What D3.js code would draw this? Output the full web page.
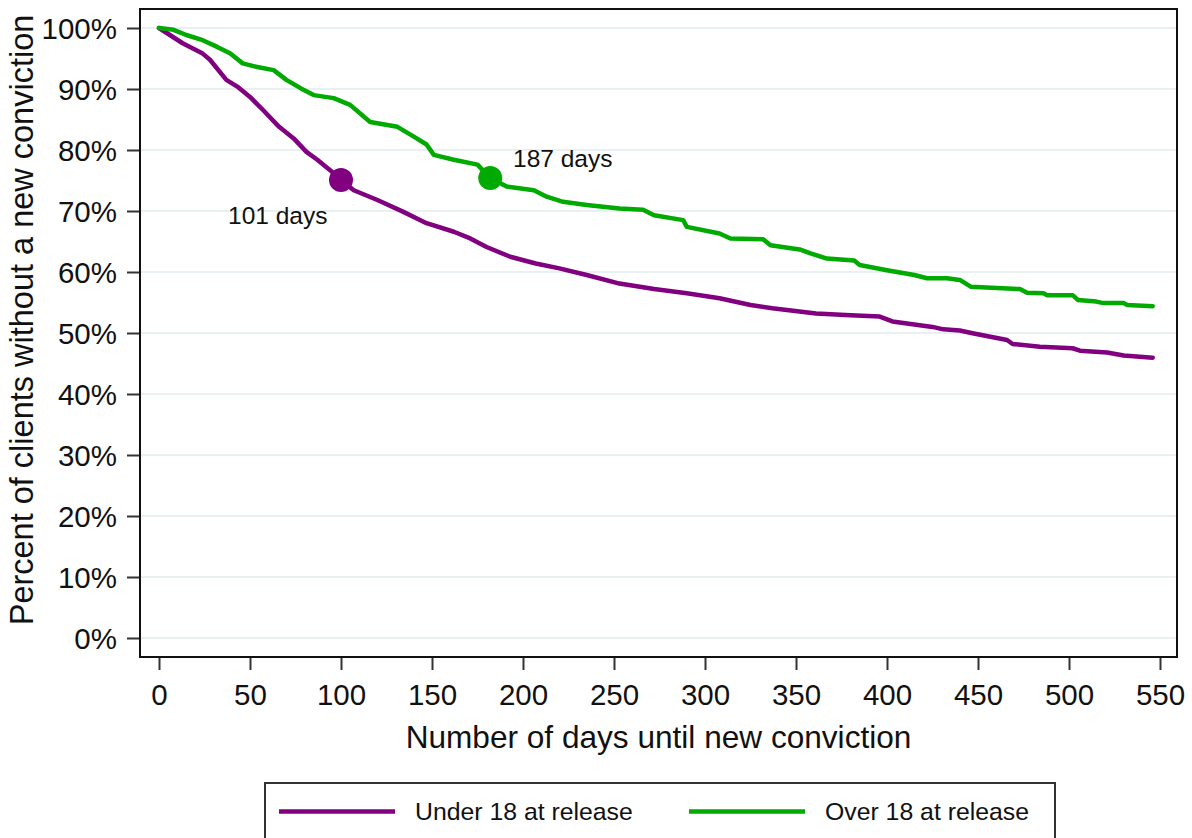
<!DOCTYPE html>
<html>
<head>
<meta charset="utf-8">
<script src="https://cdn.jsdelivr.net/npm/d3@7"></script>
<style>
  html, body { margin: 0; padding: 0; background: #ffffff; }
  svg { display: block; }
  text { font-family: "Liberation Sans", Arial, sans-serif; fill: #111111; }
</style>
</head>
<body>
<svg id="chart" width="1192" height="838"></svg>
<script>
// ---- Data ----
const seriesNames = ["Under 18 at release", "Over 18 at release"];
const under18Days = [0, 13, 24, 28, 37, 43, 50, 57, 66, 74, 81, 87, 94, 100, 107, 120, 134, 147, 162, 171, 180, 193, 207, 220, 235, 253, 272, 290, 308, 325, 337, 361, 380, 396, 403, 425, 431, 440, 447, 466, 469, 484, 502, 506, 521, 530, 546];
const under18Pct  = [100, 97.5, 95.8, 94.8, 91.5, 90.4, 88.7, 86.6, 83.8, 81.9, 79.7, 78.4, 76.7, 75.1, 73.4, 71.8, 69.9, 68.0, 66.6, 65.5, 64.1, 62.5, 61.4, 60.6, 59.5, 58.1, 57.2, 56.5, 55.7, 54.6, 54.05, 53.2, 52.9, 52.7, 51.9, 51.0, 50.6, 50.4, 49.95, 48.85, 48.2, 47.75, 47.5, 47.1, 46.8, 46.3, 45.95];
const over18Days = [0, 8, 15, 24, 32, 39, 46, 54, 63, 70, 78, 85, 96, 105, 116, 131, 140, 147, 151, 162, 175, 182, 191, 206, 213, 222, 235, 253, 266, 272, 288, 290, 308, 314, 332, 336, 352, 358, 367, 382, 385, 400, 415, 422, 433, 440, 446, 473, 477, 486, 488, 502, 505, 515, 519, 530, 532, 546];
const over18Pct  = [100, 99.7, 98.85, 98.0, 96.9, 95.85, 94.2, 93.6, 93.1, 91.5, 90.1, 89.0, 88.5, 87.4, 84.6, 83.8, 82.2, 80.9, 79.2, 78.4, 77.6, 75.4, 74.0, 73.4, 72.35, 71.5, 71.0, 70.4, 70.2, 69.3, 68.5, 67.4, 66.3, 65.5, 65.35, 64.4, 63.7, 63.05, 62.2, 61.9, 61.15, 60.3, 59.5, 58.97, 58.97, 58.7, 57.6, 57.2, 56.6, 56.5, 56.2, 56.2, 55.4, 55.15, 54.9, 54.9, 54.6, 54.4];
const markerDays = [100, 182];
const markerPct  = [75.1, 75.4];
const markerLabels = ["101 days", "187 days"];
const xTicks = [0, 50, 100, 150, 200, 250, 300, 350, 400, 450, 500, 550];
const yTicks = [0, 10, 20, 30, 40, 50, 60, 70, 80, 90, 100];
const xTitle = "Number of days until new conviction";
const yTitle = "Percent of clients without a new conviction";

// ---- Styles / layout ----
const colors = ["#800080", "#00aa00"];
const frame = { left: 140, top: 9, right: 1177, bottom: 657 };

const svg = d3.select("#chart");
const x = d3.scaleLinear().domain([0, 550]).range([159, 1160]);
const y = d3.scaleLinear().domain([0, 100]).range([638, 28]);

// Gridlines
svg.append("g").selectAll("line").data(yTicks).join("line")
  .attr("x1", frame.left).attr("x2", frame.right)
  .attr("y1", d => y(d)).attr("y2", d => y(d))
  .attr("stroke", "#e8f0f2").attr("stroke-width", 2);

// Frame
svg.append("rect")
  .attr("x", frame.left).attr("y", frame.top)
  .attr("width", frame.right - frame.left).attr("height", frame.bottom - frame.top)
  .attr("fill", "none").attr("stroke", "#111").attr("stroke-width", 2);

// Y axis
const yAxis = svg.append("g")
  .attr("transform", `translate(${frame.left - 1},0)`)
  .call(d3.axisLeft(y).tickValues(yTicks).tickSize(12).tickPadding(10).tickFormat(d => d + "%"));
yAxis.select(".domain").remove();
yAxis.selectAll(".tick line").attr("stroke", "#333").attr("stroke-width", 2);
yAxis.selectAll(".tick text").attr("font-size", 29.5).attr("fill", "#111")
  .attr("font-family", "Liberation Sans, Arial, sans-serif").attr("dy", "0.36em");

// X axis
const xAxis = svg.append("g")
  .attr("transform", `translate(0,${frame.bottom + 1})`)
  .call(d3.axisBottom(x).tickValues(xTicks).tickSize(12).tickPadding(14));
xAxis.select(".domain").remove();
xAxis.selectAll(".tick line").attr("stroke", "#333").attr("stroke-width", 2);
xAxis.selectAll(".tick text").attr("font-size", 29.5).attr("fill", "#111")
  .attr("font-family", "Liberation Sans, Arial, sans-serif");

// Axis titles
svg.append("text").attr("x", (frame.left + frame.right) / 2).attr("y", 748)
  .attr("text-anchor", "middle").attr("font-size", 31.6).text(xTitle);
svg.append("text")
  .attr("transform", `translate(33,${(frame.top + frame.bottom) / 2 - 13}) rotate(-90)`)
  .attr("text-anchor", "middle").attr("font-size", 32.5).text(yTitle);

// Lines
const line = d3.line().x(d => x(d[0])).y(d => y(d[1])).curve(d3.curveLinear);
const series = [
  d3.zip(under18Days, under18Pct),
  d3.zip(over18Days, over18Pct)
];
svg.append("g").selectAll("path").data(series).join("path")
  .attr("d", line).attr("fill", "none")
  .attr("stroke", (d, i) => colors[i]).attr("stroke-width", 4.5)
  .attr("stroke-linejoin", "round").attr("stroke-linecap", "round");

// Markers
svg.append("g").selectAll("circle").data(markerDays).join("circle")
  .attr("cx", d => x(d)).attr("cy", (d, i) => y(markerPct[i])).attr("r", 12)
  .attr("fill", (d, i) => colors[i]);

// Marker labels
svg.append("text").attr("x", 228).attr("y", 224).attr("font-size", 24.5).text(markerLabels[0]);
svg.append("text").attr("x", 513).attr("y", 167).attr("font-size", 24.5).text(markerLabels[1]);

// Legend
const legend = svg.append("g");
legend.append("rect").attr("x", 265).attr("y", 783).attr("width", 790).attr("height", 70)
  .attr("fill", "#fff").attr("stroke", "#333").attr("stroke-width", 2);
const legX = [279, 689];
seriesNames.forEach((name, i) => {
  legend.append("line").attr("x1", legX[i]).attr("x2", legX[i] + 116)
    .attr("y1", 811.5).attr("y2", 811.5).attr("stroke", colors[i]).attr("stroke-width", 4.5);
  legend.append("text").attr("x", legX[i] + 136).attr("y", 820).attr("font-size", 24.8).text(name);
});
</script>
</body>
</html>
